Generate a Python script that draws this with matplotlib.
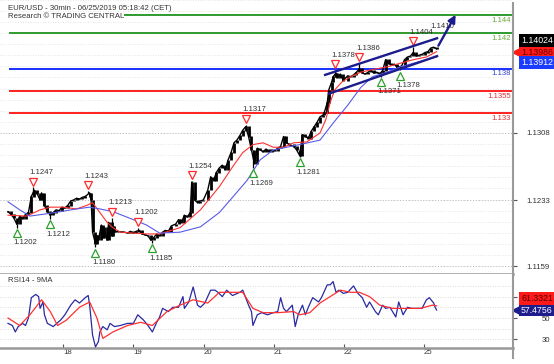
import numpy as np
import matplotlib
matplotlib.use("Agg")
import matplotlib.pyplot as plt
import matplotlib.transforms as mtransforms
from matplotlib.lines import Line2D

plt.rcParams['font.family'] = ['Liberation Sans', 'DejaVu Sans']

# ---- data (30 min bars, index from left edge) ----
bars = [0, 2, 4, 6, 8, 10, 12, 14, 16, 18, 20, 22, 23, 25, 27, 29, 31, 33, 35, 37,
        39, 41, 43, 45, 47, 49, 51, 53, 56, 57, 58, 60, 61, 62, 64, 65, 66, 68, 69, 71,
        72, 73, 75, 78, 80, 82, 84, 86, 88, 90, 92, 94, 96, 98, 100, 102, 104, 106, 108, 110,
        112, 115, 117, 119, 121, 123, 125, 126, 128, 130, 132, 134, 137, 139, 141, 143, 145, 147, 149, 151,
        153, 155, 157, 159, 161, 163, 165, 167, 169, 171, 173, 175, 177, 179, 181, 183, 185, 187, 189, 191,
        193, 196, 198, 200, 202, 204, 206, 208, 210, 212, 214, 216, 217, 219, 220, 222, 223, 225, 226, 228,
        230, 233, 235, 237, 239, 241, 243, 245, 247, 249, 251, 253, 255, 257, 259, 261, 263, 265, 267, 270,
        272, 274, 276, 278, 280, 282, 284, 286, 288, 290, 292, 294]
closes = [1.1220, 1.1217, 1.1213, 1.1206, 1.1215, 1.1212, 1.1217, 1.1219, 1.1237, 1.1244,
          1.1240, 1.1233, 1.1241, 1.1227, 1.1220, 1.1216, 1.1219, 1.1222, 1.1221, 1.1225,
          1.1224, 1.1227, 1.1232, 1.1233, 1.1235, 1.1234, 1.1236, 1.1237, 1.1241, 1.1233,
          1.1197, 1.1184, 1.1193, 1.1188, 1.1205, 1.1191, 1.1202, 1.1188, 1.1208, 1.1193,
          1.1204, 1.1197, 1.1198, 1.1197, 1.1197, 1.1196, 1.1198, 1.1196, 1.1198, 1.1199,
          1.1195, 1.1194, 1.1193, 1.1188, 1.1191, 1.1195, 1.1193, 1.1197, 1.1199, 1.1198,
          1.1204, 1.1206, 1.1211, 1.1208, 1.1216, 1.1214, 1.1219, 1.1253, 1.1233, 1.1230,
          1.1232, 1.1233, 1.1244, 1.1259, 1.1255, 1.1264, 1.1269, 1.1272, 1.1267, 1.1278,
          1.1286, 1.1297, 1.1300, 1.1305, 1.1311, 1.1315, 1.1304, 1.1289, 1.1274, 1.1291,
          1.1289, 1.1287, 1.1290, 1.1287, 1.1289, 1.1288, 1.1291, 1.1293, 1.1304, 1.1297,
          1.1295, 1.1293, 1.1289, 1.1283, 1.1306, 1.1304, 1.1302, 1.1310, 1.1315, 1.1320,
          1.1326, 1.1328, 1.1331, 1.1342, 1.1356, 1.1365, 1.1371, 1.1375, 1.1370, 1.1374,
          1.1367, 1.1372, 1.1371, 1.1373, 1.1376, 1.1380, 1.1375, 1.1374, 1.1376, 1.1378,
          1.1375, 1.1376, 1.1374, 1.1378, 1.1390, 1.1386, 1.1384, 1.1385, 1.1381, 1.1383,
          1.1390, 1.1393, 1.1394, 1.1398, 1.1394, 1.1395, 1.1396, 1.1398, 1.1399, 1.1403,
          1.1404, 1.1402]

red_ma_t = [0, 13, 22, 29, 38, 47, 54, 58, 63, 68, 72, 77, 86, 95, 104, 118, 132, 145, 154, 161,
            168, 175, 182, 189, 196, 205, 214, 218, 221, 224, 229, 235, 242, 250, 260, 269, 278, 287, 294]
red_ma = [1.1216, 1.1215, 1.1222, 1.1225, 1.1225, 1.1223, 1.1227, 1.1230, 1.1219, 1.1208,
          1.1202, 1.1197, 1.1196, 1.1195, 1.1195, 1.1202, 1.1222, 1.1248, 1.1270, 1.1286,
          1.1295, 1.1297, 1.1292, 1.1292, 1.1297, 1.1298, 1.1308, 1.1323, 1.1342, 1.1356,
          1.1365, 1.1371, 1.1376, 1.1379, 1.1382, 1.1386, 1.1390, 1.1393, 1.1399]
blue_ma_t = [0, 8, 15, 24, 36, 47, 56, 63, 72, 86, 95, 104, 118, 132, 145, 154, 164, 173, 182, 191,
             200, 214, 223, 233, 242, 250, 260, 269, 278, 287, 294]
blue_ma = [1.1231, 1.1222, 1.1215, 1.1217, 1.1220, 1.1223, 1.1225, 1.1223, 1.1220, 1.1211,
           1.1205, 1.1196, 1.1197, 1.1203, 1.1219, 1.1236, 1.1255, 1.1278, 1.1289, 1.1292,
           1.1295, 1.1300, 1.1319, 1.1339, 1.1359, 1.1371, 1.1376, 1.1382, 1.1386, 1.1390, 1.1393]

rsi_t = [0, 3, 5, 7, 10, 12, 14, 16, 19, 21, 22, 24, 25, 27, 31, 36, 39, 43, 46, 49,
         53, 55, 56, 58, 60, 62, 63, 65, 68, 70, 73, 77, 82, 86, 89, 93, 96, 99, 102, 104,
         106, 110, 113, 117, 120, 121, 124, 127, 130, 132, 135, 139, 142, 144, 147, 150, 154, 159, 161, 165,
         167, 168, 171, 174, 178, 182, 185, 187, 189, 191, 195, 197, 199, 202, 204, 206, 209, 211, 213, 215,
         219, 221, 223, 225, 227, 230, 233, 237, 240, 243, 246, 248, 252, 254, 257, 259, 262, 266, 268, 271,
         274, 277, 281, 284, 287, 289, 292, 293, 294]
rsi = [45, 43, 37, 42, 45, 43, 50, 69, 72, 70, 59, 65, 53, 45, 42, 48, 53, 62, 67, 64,
       69, 71, 62, 34, 23, 28, 37, 42, 39, 45, 42, 43, 45, 45, 53, 48, 43, 37, 46, 51,
       59, 56, 60, 60, 70, 59, 65, 79, 62, 60, 64, 76, 76, 74, 70, 76, 71, 74, 76, 62,
       56, 43, 53, 55, 53, 55, 56, 69, 59, 56, 62, 42, 53, 62, 53, 60, 69, 67, 65, 69,
       81, 81, 84, 74, 76, 73, 74, 80, 73, 69, 60, 65, 56, 53, 62, 59, 60, 51, 65, 53,
       60, 59, 59, 59, 67, 69, 64, 60, 57.4756]
rsi_ma_t = [0, 8, 15, 23, 29, 34, 40, 49, 56, 61, 65, 72, 82, 91, 99, 109, 118, 127, 137, 145,
            154, 161, 168, 175, 185, 196, 200, 207, 214, 221, 228, 235, 241, 248, 255, 264, 274, 283, 291, 294]
rsi_ma = [50, 43, 53, 67, 56, 43, 48, 60, 65, 50, 31, 37, 43, 46, 43, 56, 62, 67, 64, 74,
          74, 74, 59, 55, 55, 56, 53, 55, 64, 70, 76, 74, 74, 70, 62, 59, 59, 59, 62, 61.3321]

swing_t = [6, 17, 29, 55, 60, 71, 89, 99, 126, 163, 168, 200, 224, 241, 256, 269, 278]
swing_p = [1.1202, 1.1247, 1.1212, 1.1243, 1.1180, 1.1213, 1.1202, 1.1185, 1.1254,
           1.1317, 1.1269, 1.1281, 1.1378, 1.1386, 1.1371, 1.1378, 1.1404]
swing_hi = [False, True, False, True, False, True, True, False, True,
            True, False, False, True, True, False, False, True]

green_levels = [1.144, 1.142]
blue_levels = [1.138]
red_levels = [1.1355, 1.133]

chan_up_t, chan_up_p = [217.5, 294.3], [1.1373, 1.1414]
chan_lo_t, chan_lo_p = [220.2, 294.3], [1.1352, 1.1394]
arrow_t, arrow_p = [294.3, 308.0], [1.1403, 1.1443]
target_t, target_p, target_lbl = 290, 1.1427, "1.1410"

price_ticks = [1.1159, 1.1233, 1.1308]
rsi_ticks = [30, 50, 70]
rsi_tick_labels = ['30', '50', '']  # 70 sits under the RSI-MA value box
day_ticks = [37.7, 85.8, 134.5, 182.5, 230.5, 285.4]
day_labels = ['18', '19', '20', '21', '22', '25']

last_price, price_ma, price_ma2 = 1.14024, 1.13986, 1.13912

# ---- layout ----
W, H = 554, 364
fig = plt.figure(figsize=(W / 100, H / 100), dpi=100)
ax = fig.add_axes([0, 1 - 274 / H, 513 / W, 274 / H])
ax2 = fig.add_axes([0, 1 - 348 / H, 513 / W, 74 / H])

GRAY = '#999999'
TXT = '#333333'
FS = 5.6
NAVY = '#1c1c8c'

for a in (ax, ax2):
    a.set_xlim(-5.5, 346.4)
    for s in ('top', 'left', 'right'):
        a.spines[s].set_visible(False)
    a.spines['bottom'].set_color(GRAY)
    a.spines['bottom'].set_linewidth(1.8)
    a.yaxis.tick_right()
    a.tick_params(axis='y', direction='out', length=3, color='#555555',
                  labelsize=FS, labelcolor=TXT, pad=23.5)
ax.set_ylim(1.11502, 1.14568)
ax2.set_ylim(22.0, 91.1)

# grids
minor = np.arange(price_ticks[0] - 0.00745, 1.1460, 0.00745 / 6)
for g in minor:
    ax.axhline(g, color='#dcdcdc', lw=0.6, ls=(0, (1, 2)), zorder=0)
for g in price_ticks:
    ax.axhline(g, color='#b8b8b8', lw=0.7, ls=(0, (1, 2)), zorder=0)
for g in range(30, 90, 10):
    ax2.axhline(g, color='#d0d0d0', lw=0.6, ls=(0, (1, 2)), zorder=0)

ax.set_yticks(price_ticks, [f"{v:.4f}" for v in price_ticks])
ax2.set_yticks(rsi_ticks, rsi_tick_labels)
for a in (ax, ax2):
    for lab in a.get_yticklabels():
        lab.set_ha('right')
ax.set_xticks([])
ax2.set_xticks(day_ticks, day_labels)
ax2.tick_params(axis='x', direction='in', length=3, color='#555555',
                labelsize=FS, labelcolor=TXT, pad=1)
for lab in ax2.get_xticklabels():
    lab.set_ha('left')

# level lines
yax = ax.get_yaxis_transform()
lbl_tr = mtransforms.offset_copy(yax, fig=fig, y=-1.2, units='points')
for lv, col, tcol in ([(v, '#2e9a2e', '#6aaa3a') for v in green_levels] +
                      [(v, '#1830ff', '#3344cc') for v in blue_levels] +
                      [(v, '#ff2020', '#e03030') for v in red_levels]):
    x0 = 125 / 513 if lv == max(green_levels) else 10 / 513
    ax.axhline(lv, xmin=x0, xmax=1, color=col, lw=1.4, zorder=2)
    ax.text(0.996, lv, f"{lv:g}", transform=lbl_tr, ha='right', va='top',
            fontsize=FS, color=tcol)

# candles
o = [closes[0]] + closes[:-1]
lo = np.minimum(o, closes)
hi = np.maximum(o, closes)
ax.vlines(bars, lo - 0.00003, hi + 0.00003, color='black', lw=2.0, zorder=4)
ax.plot(bars, closes, color='black', lw=1.0, zorder=4)

# moving averages
ax.plot(red_ma_t, red_ma, color='#ff3030', lw=0.8, zorder=5)
ax.plot(blue_ma_t, blue_ma, color='#5a5ae8', lw=0.8, zorder=5)

# swing markers + wicks to swing extremes
for t, p, h in zip(swing_t, swing_p, swing_hi):
    near = closes[int(np.argmin(np.abs(np.array(bars) - t)))]
    ax.vlines(t, min(near, p), max(near, p), color='black', lw=0.9, zorder=4)
    dy = 4.3 if h else -3.8
    tr = mtransforms.offset_copy(ax.transData, fig=fig, y=dy, units='points')
    ax.plot([t], [p], marker='v' if h else '^', ms=5.2, mfc='white', mew=0.9,
            mec='#ff2a2a' if h else '#2ca02c', transform=tr, zorder=6)
    ax.annotate(f"{p:.4f}", (t, p), xytext=(-2.5, 10.8 if h else -11),
                textcoords='offset points', ha='left', va='center',
                fontsize=FS, color=TXT, zorder=6)

# channel & projection arrow
ax.plot(chan_up_t, chan_up_p, color=NAVY, lw=1.7, zorder=7)
ax.plot(chan_lo_t, chan_lo_p, color=NAVY, lw=1.7, zorder=7)
ax.annotate('', xy=(arrow_t[1], arrow_p[1]), xytext=(arrow_t[0], arrow_p[0]),
            arrowprops=dict(arrowstyle='-|>', color=NAVY, lw=1.7, mutation_scale=11),
            zorder=7)
ax.text(target_t, target_p, target_lbl, fontsize=FS, color=TXT, va='center', ha='left')

# RSI
ax2.plot(rsi_t, rsi, color='#2a2aa0', lw=0.9, zorder=4)
ax2.plot(rsi_ma_t, rsi_ma, color='#ff3030', lw=0.9, zorder=5)


def value_box(a, val, txt, fc, tc, dy, pointer=False):
    a.annotate(txt, (1, val), xycoords=a.get_yaxis_transform(), xytext=(5.8, dy),
               textcoords='offset points', ha='left', va='center', fontsize=6.3,
               color=tc, annotation_clip=False, zorder=10,
               bbox=dict(boxstyle='square,pad=0.22', fc=fc, ec='none'))
    if pointer:
        tr = mtransforms.offset_copy(a.get_yaxis_transform(), fig=fig, x=2.2, units='points')
        a.plot([1], [val], marker='<', ms=5.5, color=fc, transform=tr,
               clip_on=False, zorder=10)


value_box(ax, price_ma, f"{price_ma:.5f}", '#ff1a1a', '#6a0000', 0, pointer=True)
value_box(ax, price_ma, f"{last_price:.5f}", 'black', 'white', 8.0)
value_box(ax, price_ma, f"{price_ma2:.5f}", '#1a3cff', 'white', -7.6)
value_box(ax2, rsi[-1], f"{rsi[-1]:.4f}", NAVY, 'white', 0, pointer=True)
value_box(ax2, rsi[-1], f"{rsi_ma[-1]:.4f}", '#ff1a1a', '#5a0000', 8.4)

# frame line on the right
fig.add_artist(Line2D([513 / W, 513 / W], [1 - 358 / H, 1 - 3 / H],
                      color=GRAY, lw=1.5, transform=fig.transFigure))

fig.text(8 / W, 1 - 8 / H, "EUR/USD - 30min - 06/25/2019 05:18:42 (CET)",
         fontsize=FS, color=TXT, va='center')
fig.text(8 / W, 1 - 17 / H, "Research \u00a9 TRADING CENTRAL",
         fontsize=FS, color=TXT, va='center')
fig.text(8 / W, 1 - 281 / H, "RSI14 - 9MA", fontsize=FS, color=TXT, va='center')

fig.savefig("out.png", dpi=100)
